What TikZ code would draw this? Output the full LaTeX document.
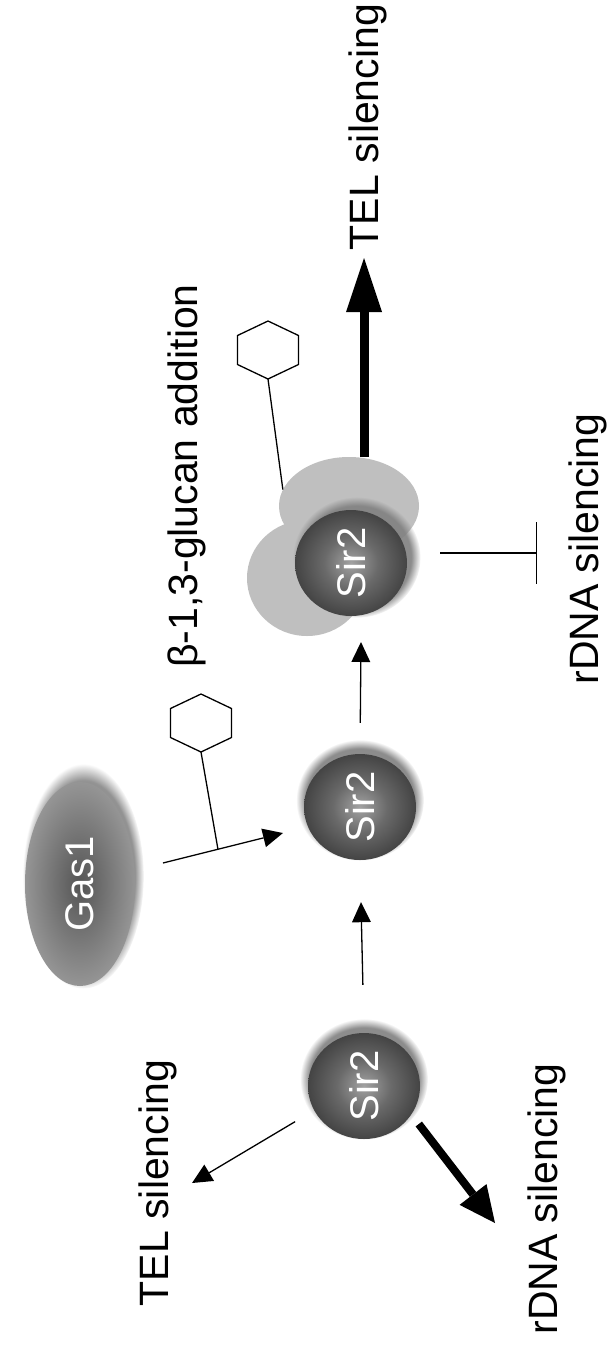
\documentclass[tikz,border=0pt]{standalone}
\usepackage{fontspec}
\setmainfont{Liberation Sans}
\usepackage{graphicx}
\usetikzlibrary{arrows.meta,shapes.geometric,shadows,calc}

\definecolor{sircore}{HTML}{A2A2A2}
\definecolor{sirmid}{HTML}{6A6A6A}
\definecolor{sirrim}{HTML}{444444}
\definecolor{gascore}{HTML}{555555}
\definecolor{gasrim}{HTML}{959595}
\definecolor{partnergray}{HTML}{BFBFBF}

% spherical look of the proteins
\pgfdeclareradialshading{sirshade}{\pgfpoint{0bp}{0bp}}{color(0bp)=(sircore); color(12bp)=(sirmid); color(25bp)=(sirrim); color(50bp)=(sirrim)}
\pgfdeclareradialshading{gasshade}{\pgfpoint{0bp}{0bp}}{color(0bp)=(gascore); color(25bp)=(gasrim); color(50bp)=(gasrim)}

\begin{document}
\begin{tikzpicture}[
  x=1pt, y=-1pt,
  caption/.style={rotate=90, inner sep=0pt, font=\fontsize{41}{49}\selectfont},
  protein/.style={ellipse, inner sep=0pt, text=white, font=\fontsize{40}{48}\selectfont},
  sir/.style={protein, minimum width=112pt, minimum height=106pt, shade, shading=sirshade,
    circular drop shadow={shadow xshift=0pt, shadow yshift=6pt, shadow scale=1.14, opacity=0.9}},
  sirhalo/.style={protein, minimum width=112pt, minimum height=106pt, shade, shading=sirshade,
    circular drop shadow={shadow xshift=5pt, shadow yshift=5pt, shadow scale=1.14, opacity=0.9}},
  gas/.style={protein, minimum width=110pt, minimum height=204pt, shade, shading=gasshade,
    circular drop shadow={shadow xshift=3pt, shadow yshift=7pt, shadow scale=1.1, opacity=0.85}},
  partner/.style={ellipse, inner sep=0pt, fill=partnergray},
  flow/.style={line width=1.3pt, -{Triangle[length=20pt, width=19pt, line width=0pt]}},
  boldflow/.style={line width=9pt, -{Triangle[length=54pt, width=36pt, line width=0pt]}},
  boldflowB/.style={line width=8pt, -{Triangle[length=36pt, width=34pt, line width=0pt]}},
  block/.style={line width=1.3pt, -{Bar[width=62pt]}},
  ring/.style={line width=1.3pt, fill=white, line join=miter},
  stem/.style={line width=1.3pt}
]
\fill[white] (0,0) rectangle (613,1353);
\useasboundingbox (0,0) rectangle (613,1353);

% glucan-modified complex
\node[partner, minimum width=120pt, minimum height=116pt] (p3low) at (307,578) {};
\node[partner, minimum width=140pt, minimum height=98pt] (p3up) at (349,506) {};
\node[sirhalo] (s3) at (351,563) {\rotatebox{90}{Sir2}};

% free Sir2 and Gas1
\node[sir] (s2) at (360,807) {\rotatebox{90}{Sir2}};
\node[sir] (s1) at (364,1086) {\rotatebox{90}{Sir2}};
\node[gas] (g1) at (80,884) {\rotatebox{90}{Gas1}};

% outcome labels
\node[caption] (telA) at (368,127) {TEL silencing};
\node[caption] (rdnaA) at (588,549) {rDNA silencing};
\node[caption] (glu) at (187,476) {β-1,3-glucan addition};
\node[caption] (telB) at (158,1183) {TEL silencing};
\node[caption] (rdnaB) at (547,1199) {rDNA silencing};

% glucan rings
\coordinate (hexA) at (201,723);
\coordinate (hexB) at (268,350);
\foreach \h in {hexA,hexB}
  \draw[ring] (\h) +(0,-29) -- +(30.5,-14.5) -- +(30.5,14.5) -- +(0,29)
    -- +(-30.5,14.5) -- +(-30.5,-14.5) -- cycle;
\coordinate (hexA-foot) at ($(hexA)+(0,29)$);
\coordinate (hexB-foot) at ($(hexB)+(0,29)$);

% connector ends
\coordinate (gas-out) at (163,863);
\coordinate (s2-dock) at (283,833);
\coordinate (s3-dock) at (361,642);
\coordinate (telA-tip) at (364,258);
\coordinate (telB-tip) at (192,1183);
\coordinate (rdnaB-tip) at (495,1223);
\coordinate (rdnaA-stop) at (537,553);

% Gas1 adds glucan to Sir2
\draw[flow] (gas-out) -- (s2-dock);
\draw[stem] (hexA-foot) -- ($(gas-out)!0.458!(s2-dock)$);
\draw[stem] (hexB-foot) -- (p3up.166);

% pathway
\draw[flow, shorten <=48pt, shorten >=42pt] (s1.north) -- (s2.south);
\draw[flow, shorten <=31pt] (s2.north) -- (s3-dock);
\draw[flow, shorten <=22pt] (s1.206) -- (telB-tip);
\draw[boldflowB, shorten <=12pt] (s1.-31) -- (rdnaB-tip);
\draw[boldflow] (telA-tip |- p3up.north) -- (telA-tip);
\draw[block, shorten <=33pt] (s3.east |- rdnaA-stop) -- (rdnaA-stop);
\end{tikzpicture}
\end{document}
